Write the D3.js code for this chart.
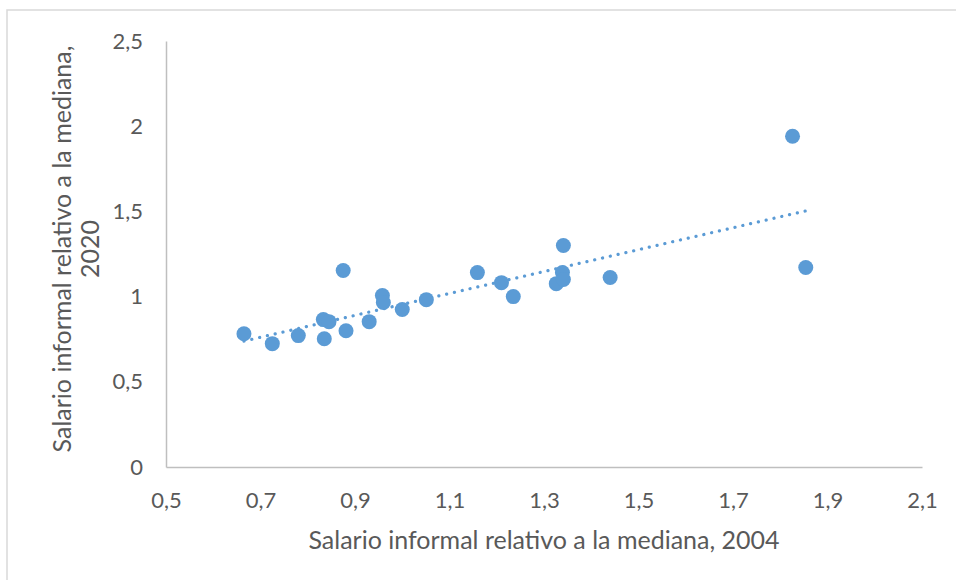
<!DOCTYPE html>
<html>
<head>
<meta charset="utf-8">
<script src="https://cdn.jsdelivr.net/npm/d3@7"></script>
<style>
  body { margin: 0; background: #fff; }
  svg text { font-family: Lato, "Open Sans", sans-serif; fill: #595959; }
</style>
</head>
<body>
<svg id="chart"></svg>
<script>
// valores
const x2004 = [0.665, 0.725, 0.78, 0.833, 0.845, 0.835, 0.875, 0.881, 0.93, 0.958, 0.96, 1.0,
  1.051, 1.159, 1.21, 1.235, 1.326, 1.341, 1.339, 1.341, 1.44, 1.826, 1.854];
const y2020 = [0.782, 0.724, 0.771, 0.865, 0.853, 0.753, 1.153, 0.8, 0.853, 1.006, 0.965, 0.924,
  0.982, 1.141, 1.082, 1.0, 1.076, 1.3, 1.141, 1.1, 1.112, 1.941, 1.171];
const xTicks = [0.5, 0.7, 0.9, 1.1, 1.3, 1.5, 1.7, 1.9, 2.1];
const yTicks = [0, 0.5, 1, 1.5, 2, 2.5];

const width = 956;
const height = 580;
const margin = { t: 41, r: 34, b: 113, l: 166 };

const svg = d3.select("#chart").attr("width", width).attr("height", height);

// marco exterior
svg.append("rect")
  .attr("x", 7).attr("y", 10)
  .attr("width", width).attr("height", height)
  .attr("fill", "none")
  .attr("stroke", "#d9d9d9")
  .attr("stroke-width", 1.5);

const xScale = d3.scaleLinear().domain([0.5, 2.1]).range([margin.l, width - margin.r]);
const yScale = d3.scaleLinear().domain([0, 2.5]).range([height - margin.b, margin.t]);

const fmt = (d) => String(d).replace(".", ",");

const xAxis = svg.append("g")
  .attr("transform", `translate(0, ${yScale(0)})`)
  .call(d3.axisBottom(xScale).tickValues(xTicks).tickSize(0).tickPadding(25).tickFormat(fmt));
const yAxis = svg.append("g")
  .attr("transform", `translate(${xScale(0.5)}, 0)`)
  .call(d3.axisLeft(yScale).tickValues(yTicks).tickSize(0).tickPadding(23).tickFormat(fmt));

[xAxis, yAxis].forEach((g) => {
  g.select(".domain").attr("stroke", "#bfbfbf").attr("stroke-width", 1.5);
  g.selectAll("text").attr("font-size", 22).attr("fill", "#595959");
});

// línea de tendencia lineal (mínimos cuadrados)
const mx = d3.mean(x2004);
const my = d3.mean(y2020);
const slope = d3.sum(x2004, (x, i) => (x - mx) * (y2020[i] - my)) /
  d3.sum(x2004, (x) => (x - mx) * (x - mx));
const intercept = my - slope * mx;
const [x0, x1] = d3.extent(x2004);

svg.append("line")
  .attr("x1", xScale(x0)).attr("y1", yScale(intercept + slope * x0))
  .attr("x2", xScale(x1)).attr("y2", yScale(intercept + slope * x1))
  .attr("stroke", "#5b9bd5")
  .attr("stroke-width", 3.2)
  .attr("stroke-linecap", "round")
  .attr("stroke-dasharray", "0.1 7.9");

svg.selectAll(".pt")
  .data(x2004.map((x, i) => ({ x, y: y2020[i] })))
  .join("circle")
  .attr("class", "pt")
  .attr("cx", (d) => xScale(d.x))
  .attr("cy", (d) => yScale(d.y))
  .attr("r", 7.5)
  .attr("fill", "#5b9bd5");

svg.append("text")
  .attr("x", (xScale(0.5) + xScale(2.1)) / 2)
  .attr("y", 549)
  .attr("text-anchor", "middle")
  .attr("font-size", 25)
  .text("Salario informal relativo a la mediana, 2004");

const yTitle = svg.append("text")
  .attr("transform", `translate(71, 249) rotate(-90)`)
  .attr("text-anchor", "middle")
  .attr("font-size", 25);
yTitle.append("tspan").attr("x", 0).attr("dy", 0).text("Salario informal relativo a la mediana,");
yTitle.append("tspan").attr("x", 0).attr("dy", 28).text("2020");
</script>
</body>
</html>
